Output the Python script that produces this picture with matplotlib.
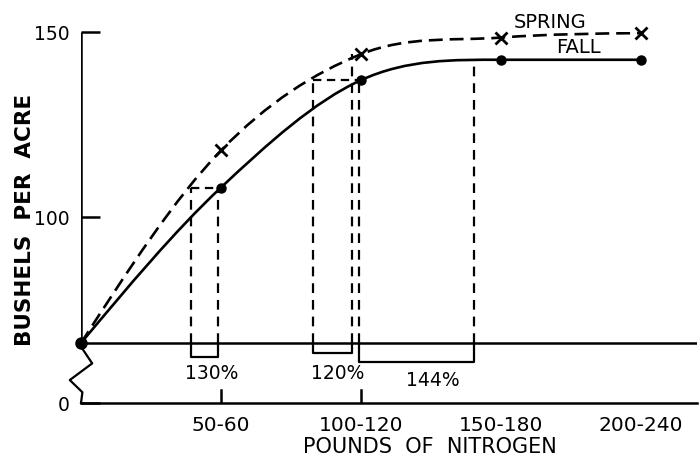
import numpy as np
import matplotlib
matplotlib.use("Agg")
import matplotlib.pyplot as plt
from matplotlib.path import Path
from matplotlib.patches import PathPatch

# =============================================================================
# data
# =============================================================================
categories = ['50-60', '100-120', '150-180', '200-240']
cat_pos    = [1, 2, 3, 4]
rate_pos   = [0, 1, 2, 3, 4]               # 0 = no nitrogen
fall       = [66, 108, 137, 142.5, 142.5]   # bushels per acre
spring     = [66, 118, 144, 148.5, 149.7]

# spring-equivalent comparisons
cmp_left   = [0.786, 1.657, 1.986]
cmp_right  = [0.98, 1.936, 2.807]
cmp_top_l  = [108, 137, 137]
cmp_top_r  = [108, 144, 142.4]
cmp_depth  = [62.2, 63.3, 60.9]
cmp_label  = ['130%', '120%', '144%']
lab_x      = [0.936, 1.83, 2.51]
lab_y      = [57.9, 57.9, 56.0]

base_yield = 66      # horizontal reference line
y_zero     = 49.8    # where the broken axis puts "0"

plt.rcParams['lines.scale_dashes'] = False
plt.rcParams['font.family'] = 'DejaVu Sans'

fig = plt.figure(figsize=(7, 4.65), dpi=100)
ax = fig.add_axes([81 / 700, 62 / 465, 616 / 700, 371 / 465])
ax.set_xlim(0, 4.4)
ax.set_ylim(y_zero, 150)
for s in ax.spines.values():
    s.set_visible(False)


def smooth(ax, x, y, **kw):
    # smooth curve through the points, drawn as a bezier path
    x = np.asarray(x, float)
    y = np.asarray(y, float)
    s = np.diff(y) / np.diff(x)
    t = np.zeros_like(y)
    for i in range(1, len(y) - 1):
        if s[i - 1] * s[i] > 0:
            t[i] = (s[i - 1] + s[i]) / 2
    t[0] = s[0] + (s[0] - t[1]) / 2
    t[-1] = max(0, s[-1] + (s[-1] - t[-2]) / 2) if s[-1] != 0 else 0
    verts = [(x[0], y[0])]
    codes = [Path.MOVETO]
    for i in range(len(x) - 1):
        h = x[i + 1] - x[i]
        verts += [(x[i] + h / 3, y[i] + t[i] * h / 3),
                  (x[i + 1] - h / 3, y[i + 1] - t[i + 1] * h / 3),
                  (x[i + 1], y[i + 1])]
        codes += [Path.CURVE4] * 3
    ax.add_patch(PathPatch(Path(verts, codes), fill=False, **kw))


# axes drawn by hand (broken y axis)
ax.plot([0, 0], [base_yield, 150], color='k', lw=1.8, solid_capstyle='butt')
zz_x = np.array([0, 0.08, -0.08, 0.01, 0.0])
zz_y = np.array([base_yield - 1, base_yield - 5.5, base_yield - 10, base_yield - 13.3, y_zero])
ax.plot(np.r_[0, zz_x], np.r_[base_yield, zz_y], color='k', lw=1.6, clip_on=False)
ax.plot([0, 4.4], [y_zero, y_zero], color='k', lw=1.8, clip_on=False)
ax.plot([0, 4.4], [base_yield, base_yield], color='k', lw=1.8)

ax.set_yticks([y_zero, 100, 150], ['0', '100', '150'])
ax.tick_params(axis='y', direction='in', length=14, width=1.8, labelsize=13.5, pad=8)
ax.set_xticks([])
# only the first two rate ticks are marked on the original
for p in cat_pos[:2]:
    ax.plot([p, p], [y_zero, y_zero + 3.5], color='k', lw=1.8)
for p, lab in zip(cat_pos, categories):
    ax.text(p, y_zero - 6, lab, ha='center', va='center', fontsize=14.5)

# curves
smooth(ax, rate_pos, fall, color='k', lw=1.9)
smooth(ax, rate_pos, spring, color='k', lw=1.9, linestyle=(0, (10, 5)))
ax.plot(rate_pos[1:], fall[1:], 'o', color='k', ms=6.5, clip_on=False)
ax.plot(rate_pos[0], fall[0], 'o', color='k', ms=8, clip_on=False)
ax.plot(rate_pos[1:], spring[1:], 'x', color='k', ms=9, mew=2, clip_on=False)

# comparison guides and brackets
for i in range(len(cmp_label)):
    xl, xr = cmp_left[i], cmp_right[i]
    ax.plot([xl, xl], [base_yield, cmp_top_l[i]], color='k', lw=1.6,
            linestyle=(0, (7, 5)))
    ax.plot([xr, xr], [base_yield, cmp_top_r[i]], color='k', lw=1.6,
            linestyle=(0, (7, 5)))
    ax.plot([xl, xl, xr, xr], [base_yield, cmp_depth[i], cmp_depth[i], base_yield],
            color='k', lw=1.6)
    ax.text(lab_x[i], lab_y[i], cmp_label[i], ha='center', va='center', fontsize=13.5)

# horizontal dashes from spring curve to fall points
ax.plot([cmp_left[0], cmp_right[0]], [cmp_top_l[0]] * 2, color='k', lw=1.6,
        linestyle=(0, (6, 4)))
ax.plot([cmp_left[1], cmp_right[1] + 0.05], [cmp_top_l[1]] * 2, color='k', lw=1.6,
        linestyle=(0, (6, 4)))

ax.text(3.35, 152.7, 'SPRING', ha='center', va='center', fontsize=14)
ax.text(3.55, 145.9, 'FALL', ha='center', va='center', fontsize=14)

ax.text(2.49, y_zero - 12, 'POUNDS  OF  NITROGEN', ha='center', va='center',
        fontsize=15)
fig.text(25 / 700, 1 - 220 / 465, 'BUSHELS  PER  ACRE', rotation=90,
         ha='center', va='center', fontsize=15.5, fontweight='bold')

fig.savefig('out.png', dpi=100)
